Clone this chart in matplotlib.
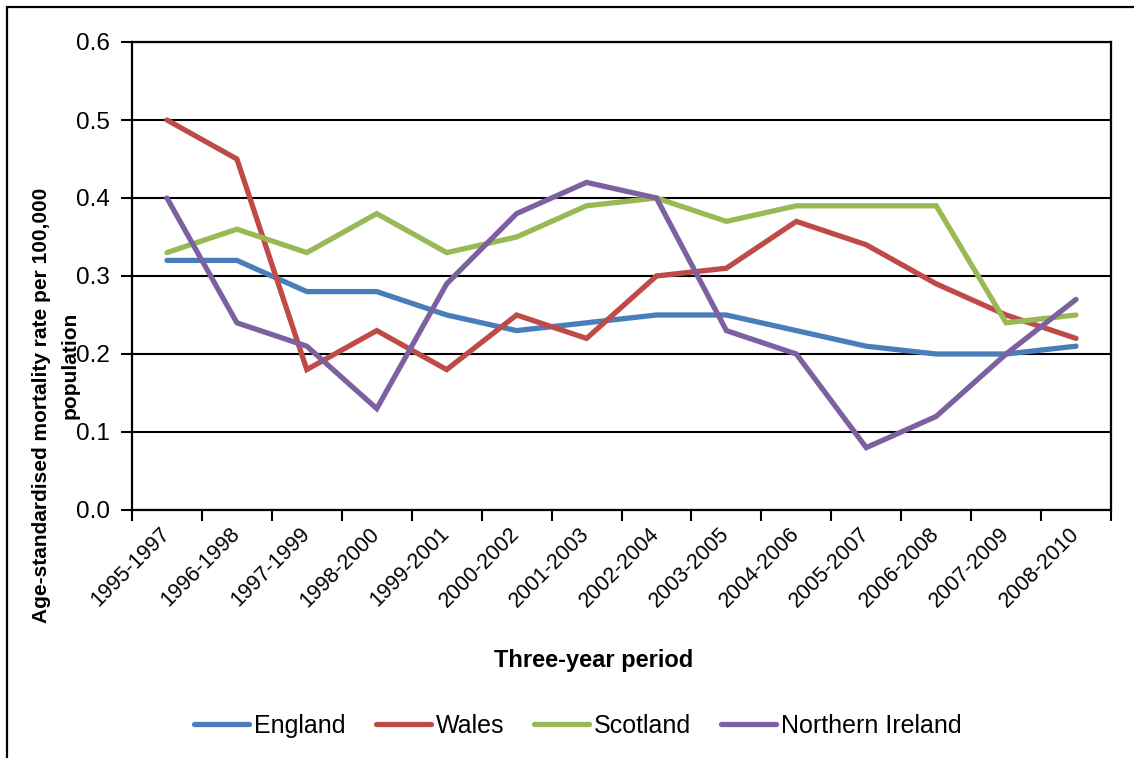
import numpy as np
import matplotlib
matplotlib.use("Agg")
import matplotlib.pyplot as plt
from matplotlib.patches import Rectangle

plt.rcParams["font.family"] = ["Liberation Sans", "DejaVu Sans"]

periods = ["1995-1997", "1996-1998", "1997-1999", "1998-2000", "1999-2001",
           "2000-2002", "2001-2003", "2002-2004", "2003-2005", "2004-2006",
           "2005-2007", "2006-2008", "2007-2009", "2008-2010"]
england = [0.32, 0.32, 0.28, 0.28, 0.25, 0.23, 0.24, 0.25, 0.25, 0.23, 0.21, 0.20, 0.20, 0.21]
wales = [0.50, 0.45, 0.18, 0.23, 0.18, 0.25, 0.22, 0.30, 0.31, 0.37, 0.34, 0.29, 0.25, 0.22]
scotland = [0.33, 0.36, 0.33, 0.38, 0.33, 0.35, 0.39, 0.40, 0.37, 0.39, 0.39, 0.39, 0.24, 0.25]
n_ireland = [0.40, 0.24, 0.21, 0.13, 0.29, 0.38, 0.42, 0.40, 0.23, 0.20, 0.08, 0.12, 0.20, 0.27]

series = [("England", england, "#4A7EBB"),
          ("Wales", wales, "#BE4B48"),
          ("Scotland", scotland, "#98B954"),
          ("Northern Ireland", n_ireland, "#7D60A0")]

W, H = 1134, 758
fig = plt.figure(figsize=(W / 100, H / 100), dpi=100)

# chart border, runs off the right and bottom edges
fig.patches.append(Rectangle((7 / W, -0.1), 1.2, 1 - 7 / H + 0.1, transform=fig.transFigure,
                             fill=False, edgecolor="black", linewidth=1.6))

ax = fig.add_axes([132 / W, 1 - 510 / H, (1111 - 132) / W, (510 - 42) / H])

x = np.arange(len(periods))
for name, vals, col in series:
    ax.plot(x, vals, color=col, linewidth=3.8, label=name, solid_capstyle="round",
            solid_joinstyle="miter", zorder=3)

ax.set_xlim(-0.5, len(periods) - 0.5)
ax.set_ylim(0, 0.6)
ax.set_yticks(np.arange(0, 0.61, 0.1))
ax.set_yticklabels([f"{v:.1f}" for v in np.arange(0, 0.61, 0.1)], fontsize=17.5)
ax.yaxis.grid(True, color="black", linewidth=1.5)
ax.set_axisbelow(True)

ax.set_xticks(np.arange(len(periods) + 1) - 0.5)
ax.set_xticklabels([])
ax.set_xticks(x, minor=True)
ax.set_xticklabels(periods, minor=True, rotation=45, ha="right", va="center",
                   rotation_mode="anchor", fontsize=15.5)
ax.tick_params(axis="x", which="minor", length=0, pad=15)
ax.tick_params(axis="both", which="major", length=8, width=1.5, direction="out")
ax.tick_params(axis="y", pad=8)

for s in ax.spines.values():
    s.set_linewidth(1.6)
    s.set_color("black")

fig.text(42 / W, 1 - 405 / H, "Age-standardised mortality rate per 100,000",
         rotation=90, ha="center", va="center", fontsize=15, fontweight="bold")
fig.text(70 / W, 1 - 365 / H, "population",
         rotation=90, ha="center", va="center", fontsize=15, fontweight="bold")
fig.text(594 / W, 1 - 660 / H, "Three-year period", ha="center", va="center",
         fontsize=17, fontweight="bold")

fig.legend(loc="center", bbox_to_anchor=(578 / W, 1 - 726 / H), ncol=4, frameon=False,
           fontsize=18, handlelength=2.2, handletextpad=0.2, columnspacing=1.2)

fig.savefig("out.png", dpi=100)
